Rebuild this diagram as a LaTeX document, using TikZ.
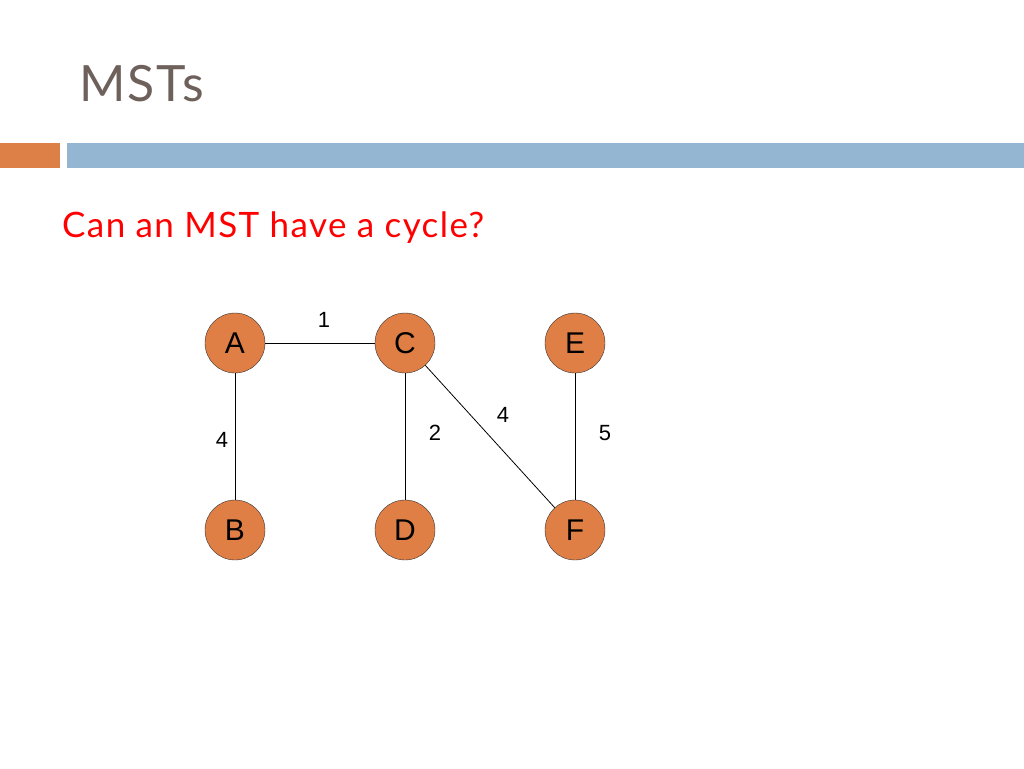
\documentclass[tikz,border=0pt]{standalone}
\usepackage{fontspec}
\setmainfont{Liberation Sans}
\newfontfamily\titlefont[LetterSpace=4]{Lato}
\definecolor{nodefill}{HTML}{E07F45}
\definecolor{titlec}{HTML}{6E605B}
\definecolor{barblue}{HTML}{94B6D2}
\definecolor{barorange}{HTML}{DD8047}
\begin{document}
\begin{tikzpicture}[x=1pt,y=-1pt,
  vert/.style={circle,draw=black!80,fill=nodefill,minimum size=60pt,inner sep=0pt,font=\fontsize{30}{32}\selectfont},
  elabel/.style={font=\fontsize{22}{24}\selectfont},
  edge/.style={draw=black,line width=0.8pt}]
\useasboundingbox (0,0) rectangle (1024,768);
\node[anchor=base west,text=titlec,font=\titlefont\fontsize{50}{54}\selectfont,inner sep=0pt] (title) at (79,101) {MSTs};
\fill[barorange] (0,143) rectangle (60,168);
\fill[barblue] (67,143) rectangle (1024,168);
\node[anchor=base west,text=red,font=\titlefont\fontsize{35}{38}\selectfont,inner sep=0pt] (q) at (62,237) {Can an MST have a cycle?};
\node[vert] (A) at (235,343) {A};
\node[vert] (C) at (405,343) {C};
\node[vert] (E) at (575,343) {E};
\node[vert] (B) at (235,530) {B};
\node[vert] (D) at (405,530) {D};
\node[vert] (F) at (575,530) {F};
\draw[edge] (A) -- (C);
\draw[edge] (A) -- (B);
\draw[edge] (C) -- (D);
\draw[edge] (C) -- (F);
\draw[edge] (E) -- (F);
\node[elabel] (l1) at (324,320) {1};
\node[elabel] (l2) at (222,440) {4};
\node[elabel] (l3) at (435,433) {2};
\node[elabel] (l4) at (503,415) {4};
\node[elabel] (l5) at (605,433) {5};
\end{tikzpicture}
\end{document}
